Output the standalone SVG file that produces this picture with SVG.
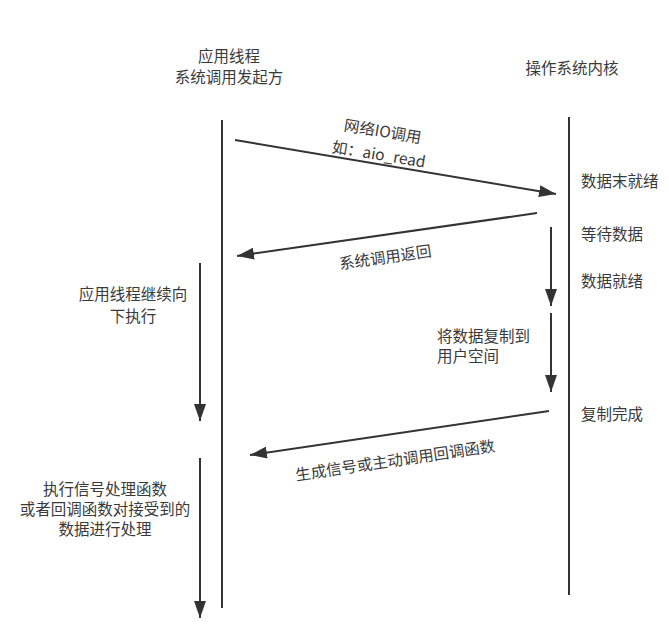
<svg xmlns="http://www.w3.org/2000/svg" width="669" height="637" viewBox="0 0 669 637">
<style>
text{font-family:"Noto Sans CJK SC","Liberation Sans",sans-serif;font-size:15.5px;fill:#3a3a3a;dominant-baseline:central}
.c{text-anchor:middle}
.l{text-anchor:start}
.ln{stroke:#333;stroke-width:2;fill:none}
</style>
<defs>
<marker id="ah" markerUnits="userSpaceOnUse" markerWidth="18" markerHeight="12" viewBox="0 0 18 12" refX="17" refY="6" orient="auto">
<path d="M0,0 L17,6 L0,12 Z" fill="#333"/>
</marker>
</defs>
<rect width="669" height="637" fill="#fff"/>
<g id="app-thread">
<text class="c" x="229" y="55">应用线程</text>
<text class="c" x="229" y="76">系统调用发起方</text>
<line class="ln" x1="222" y1="120" x2="222" y2="608"/>
</g>
<g id="kernel">
<text class="c" x="572" y="67">操作系统内核</text>
<line class="ln" x1="569" y1="117" x2="569" y2="595"/>
</g>
<g id="kernel-states">
<text class="l" x="581" y="180">数据末就绪</text>
<text class="l" x="581" y="233">等待数据</text>
<text class="l" x="581" y="280">数据就绪</text>
<text class="l" x="581" y="413">复制完成</text>
</g>
<g id="copy-label">
<text class="l" x="437" y="335">将数据复制到</text>
<text class="l" x="437" y="355">用户空间</text>
</g>
<g id="app-continue-label">
<text class="c" x="133" y="293">应用线程继续向</text>
<text class="c" x="133" y="315">下执行</text>
</g>
<g id="callback-label">
<text class="c" x="105" y="488">执行信号处理函数</text>
<text class="c" x="105" y="508">或者回调函数对接受到的</text>
<text class="c" x="105" y="528">数据进行处理</text>
</g>
<g id="connectors">
<line class="ln" x1="235" y1="140" x2="556" y2="194" marker-end="url(#ah)"/>
<line class="ln" x1="537" y1="213" x2="237" y2="256" marker-end="url(#ah)"/>
<line class="ln" x1="549" y1="411" x2="250" y2="455" marker-end="url(#ah)"/>
<line class="ln" x1="200" y1="263" x2="200" y2="421" marker-end="url(#ah)"/>
<line class="ln" x1="200" y1="458" x2="200" y2="618" marker-end="url(#ah)"/>
<line class="ln" x1="551" y1="227" x2="551" y2="306" marker-end="url(#ah)"/>
<line class="ln" x1="551" y1="313" x2="551" y2="392" marker-end="url(#ah)"/>
</g>
<g id="connector-labels">
<text class="c" x="383" y="130" transform="rotate(9.4 383 130)">网络IO调用</text>
<text class="c" x="379" y="153" transform="rotate(9.4 379 153)">如：aio_read</text>
<text class="c" x="385" y="256" transform="rotate(-8.2 385 256)">系统调用返回</text>
<text class="c" x="395" y="459" transform="rotate(-8.4 395 459)">生成信号或主动调用回调函数</text>
</g>
</svg>
